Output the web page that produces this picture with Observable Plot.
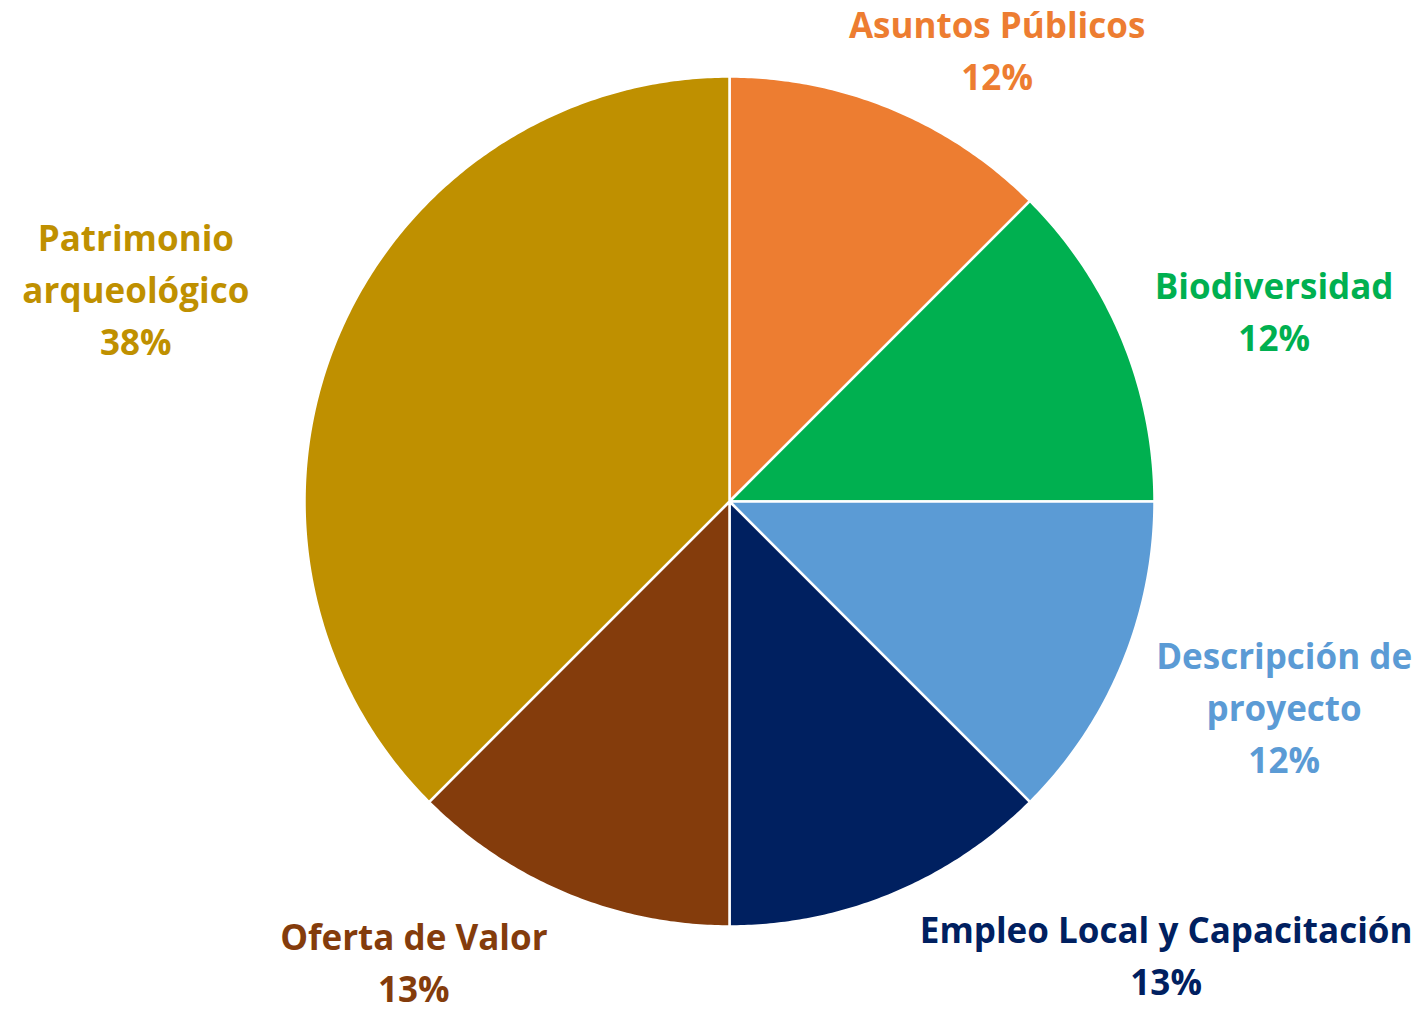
<!DOCTYPE html>
<html>
<head>
<meta charset="utf-8">
<script src="https://cdn.jsdelivr.net/npm/d3@7"></script>
<script src="https://cdn.jsdelivr.net/npm/@observablehq/plot@0.6"></script>
<style>
  html, body { margin: 0; padding: 0; background: #ffffff; }
  #chart { width: 1423px; height: 1010px; }
</style>
</head>
<body>
<div id="chart"></div>
<script>
// ---- data ----
const categories = ["Asuntos Públicos", "Biodiversidad", "Descripción de proyecto", "Empleo Local y Capacitación", "Oferta de Valor", "Patrimonio arqueológico"];
const labelLines = ["Asuntos Públicos", "Biodiversidad", "Descripción de\nproyecto", "Empleo Local y Capacitación", "Oferta de Valor", "Patrimonio\narqueológico"];
const shares = [12.5, 12.5, 12.5, 12.5, 12.5, 37.5];
const pctLabels = ["12%", "12%", "12%", "13%", "13%", "38%"];
const colors = ["#ED7D31", "#00B050", "#5B9BD5", "#002060", "#843C0C", "#BF9000"];

// ---- layout ----
const W = 1423, H = 1010;
const R = 425;                 // pie radius in px units
const CX = 729, CY = 501;      // pie centre in the page
// label nudges (px) from the rim point at each slice's mid-angle
const labelNudge = [[105, 61], [152, 31], [162, -40], [274, -58], [-153, -65], [-201, 53]];

const total = d3.sum(shares);
const slicePts = [];
const labels = [];
let cum = 0;
categories.forEach((cat, i) => {
  const a0 = cum / total * 2 * Math.PI;
  cum += shares[i];
  const a1 = cum / total * 2 * Math.PI;
  const n = Math.max(2, Math.ceil((a1 - a0) / (Math.PI / 360)));
  slicePts.push({cat, x: 0, y: 0});
  for (let k = 0; k <= n; k++) {
    const a = a0 + (a1 - a0) * k / n;
    slicePts.push({cat, x: R * Math.sin(a), y: R * Math.cos(a)});
  }
  slicePts.push({cat, x: 0, y: 0});
  const am = (a0 + a1) / 2;
  labels.push({
    cat,
    x: R * Math.sin(am) + labelNudge[i][0],
    y: R * Math.cos(am) + labelNudge[i][1],
    text: labelLines[i] + "\n" + pctLabels[i]
  });
});

const chart = Plot.plot({
  width: W,
  height: H,
  margin: 0,
  style: {background: "#ffffff", overflow: "visible"},
  x: {domain: [-CX, W - CX], range: [0, W], axis: null},
  y: {domain: [-(H - CY), CY], range: [H, 0], axis: null},
  color: {domain: categories, range: colors},
  marks: [
    Plot.line(slicePts, {x: "x", y: "y", z: "cat", fill: "cat", stroke: "#ffffff", strokeWidth: 2.5, strokeLinejoin: "round", curve: "linear"}),
    Plot.text(labels, {
      x: "x", y: "y", text: "text", fill: "cat",
      fontFamily: "'Open Sans', Lato, sans-serif", fontWeight: "bold", fontSize: 35,
      lineHeight: 1.486, textAnchor: "middle", lineAnchor: "middle"
    })
  ]
});
document.getElementById("chart").appendChild(chart);
</script>
</body>
</html>
